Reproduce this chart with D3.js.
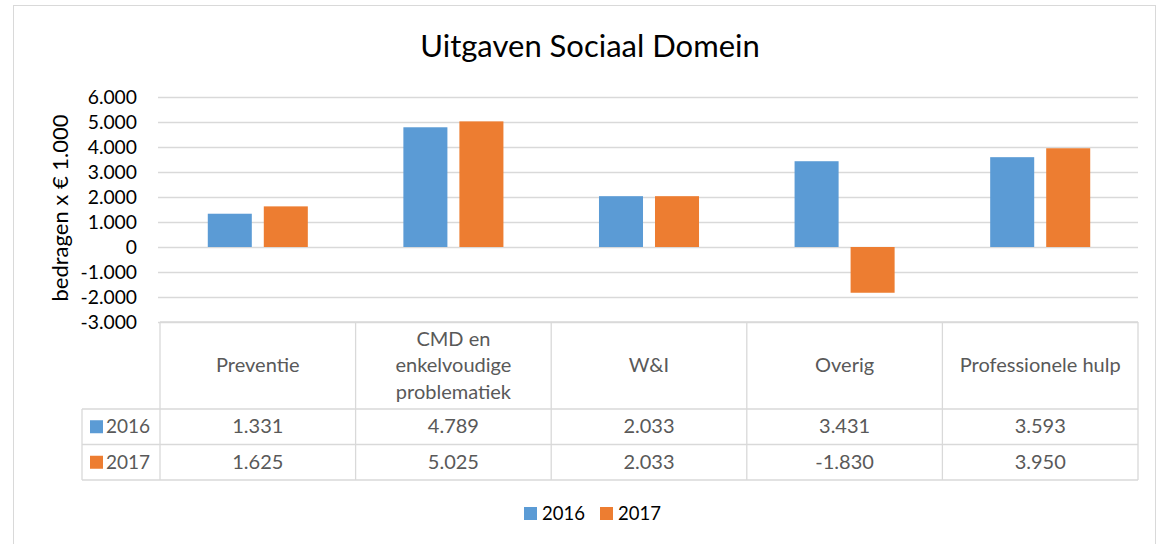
<!DOCTYPE html>
<html>
<head>
<meta charset="utf-8">
<script src="https://cdn.jsdelivr.net/npm/d3@7"></script>
<style>
  body { margin: 0; background: #fff; }
  svg { font-family: "Lato", "Open Sans", sans-serif; }
</style>
</head>
<body>
<svg id="chart" width="1157" height="544"></svg>
<script>
const title = "Uitgaven Sociaal Domein";
const yAxisTitle = "bedragen x € 1.000";
const categories = ["Preventie", "CMD en enkelvoudige problematiek", "W&I", "Overig", "Professionele hulp"];
const categoryLines = [["Preventie"], ["CMD en", "enkelvoudige", "problematiek"], ["W&I"], ["Overig"], ["Professionele hulp"]];
const seriesNames = ["2016", "2017"];
const values2016 = [1331, 4789, 2033, 3431, 3593];
const values2017 = [1625, 5025, 2033, -1830, 3950];
const seriesColors = ["#5B9BD5", "#ED7D31"];
const yTicks = [6000, 5000, 4000, 3000, 2000, 1000, 0, -1000, -2000, -3000];

const fmt = v => d3.format(",")(v).replace(/,/g, ".").replace("−", "-");

const svg = d3.select("#chart");

// chart border
svg.append("rect").attr("x", 13.5).attr("y", 5.5).attr("width", 1142).attr("height", 560)
  .attr("fill", "none").attr("stroke", "#D9D9D9").attr("stroke-width", 1);

const plot = { left: 160, right: 1138, top: 97, bottom: 322 };

const y = d3.scaleLinear().domain([-3000, 6000]).range([plot.bottom, plot.top]);
const x0 = d3.scaleBand().domain(categories).range([plot.left, plot.right]).padding(0);
const x1 = d3.scaleBand().domain(seriesNames).range([0, x0.bandwidth()])
  .paddingInner(0.214).paddingOuter(0.853);

// Title
svg.append("text").attr("x", 590).attr("y", 57).attr("text-anchor", "middle")
  .attr("font-size", 31).attr("fill", "#000").text(title);

// gridlines + tick labels
const yAxis = d3.axisLeft(y).tickValues(yTicks).tickSize(-(plot.right - plot.left)).tickFormat(fmt);
const gy = svg.append("g").attr("transform", `translate(${plot.left},0)`).call(yAxis);
gy.select(".domain").remove();
gy.selectAll(".tick line").attr("stroke", "#D9D9D9").attr("stroke-width", 1.3).attr("x1", -2);
gy.selectAll(".tick text").attr("x", -23).attr("font-size", 19.3).attr("fill", "#000")
  .attr("font-family", "Lato");

// Y axis title
svg.append("text").attr("transform", `translate(68,208) rotate(-90)`)
  .attr("text-anchor", "middle").attr("font-size", 22).attr("fill", "#000").text(yAxisTitle);

// bars
const data = categories.map((c, i) => ({ cat: c, vals: [values2016[i], values2017[i]] }));
const groups = svg.append("g").selectAll("g").data(data).join("g")
  .attr("transform", d => `translate(${x0(d.cat)},0)`);
groups.selectAll("rect").data(d => d.vals.map((v, j) => ({ s: seriesNames[j], v, j })))
  .join("rect")
  .attr("x", d => x1(d.s))
  .attr("width", x1.bandwidth())
  .attr("y", d => y(Math.max(0, d.v)))
  .attr("height", d => Math.abs(y(d.v) - y(0)))
  .attr("fill", d => seriesColors[d.j]);

// data table
const rowTop = [322, 409, 444.5];
const rowBot = [409, 444.5, 480];
const legLeft = 82;
const tbl = svg.append("g");
const lineColor = "#D9D9D9";
const hline = (x1_, x2_, yy) => tbl.append("line").attr("x1", x1_).attr("x2", x2_).attr("y1", yy).attr("y2", yy)
  .attr("stroke", lineColor).attr("stroke-width", 1.3);
hline(plot.left, plot.right, 322);
[409, 444.5, 480].forEach(yy => hline(legLeft, plot.right, yy));
const colEdges = categories.map(c => x0(c)).concat([plot.right]);
colEdges.forEach(xx => tbl.append("line").attr("x1", xx).attr("x2", xx).attr("y1", 322).attr("y2", 480)
  .attr("stroke", lineColor).attr("stroke-width", 1.3));
tbl.append("line").attr("x1", legLeft).attr("x2", legLeft).attr("y1", 409).attr("y2", 480)
  .attr("stroke", lineColor).attr("stroke-width", 1.3);

const tableColor = "#595959";
const tfs = 20;
categoryLines.forEach((lines, i) => {
  const cx = x0(categories[i]) + x0.bandwidth() / 2;
  const mid = (322 + 409) / 2;
  const lh = 26.5;
  const t = tbl.append("text").attr("text-anchor", "middle").attr("font-size", tfs).attr("fill", tableColor);
  lines.forEach((l, k) => {
    t.append("tspan").attr("x", cx).attr("y", mid + 6.5 + (k - (lines.length - 1) / 2) * lh).text(l);
  });
});
[values2016, values2017].forEach((vals, r) => {
  const mid = (rowTop[r + 1] + rowBot[r + 1]) / 2;
  tbl.append("rect").attr("x", 90).attr("y", mid - 6.5).attr("width", 13).attr("height", 13)
    .attr("fill", seriesColors[r]);
  tbl.append("text").attr("x", 106).attr("y", mid + 6.5).attr("font-size", 19).attr("fill", tableColor)
    .text(seriesNames[r]);
  vals.forEach((v, i) => {
    tbl.append("text").attr("x", x0(categories[i]) + x0.bandwidth() / 2).attr("y", mid + 6.5)
      .attr("text-anchor", "middle").attr("font-size", tfs).attr("fill", tableColor).text(fmt(v));
  });
});

// bottom legend
const leg = svg.append("g");
const legItems = [{ x: 524, n: seriesNames[0], c: seriesColors[0] }, { x: 600, n: seriesNames[1], c: seriesColors[1] }];
legItems.forEach(it => {
  leg.append("rect").attr("x", it.x).attr("y", 507).attr("width", 13).attr("height", 13).attr("fill", it.c);
  leg.append("text").attr("x", it.x + 18).attr("y", 520).attr("font-size", 18.5).attr("fill", "#000").text(it.n);
});
</script>
</body>
</html>
